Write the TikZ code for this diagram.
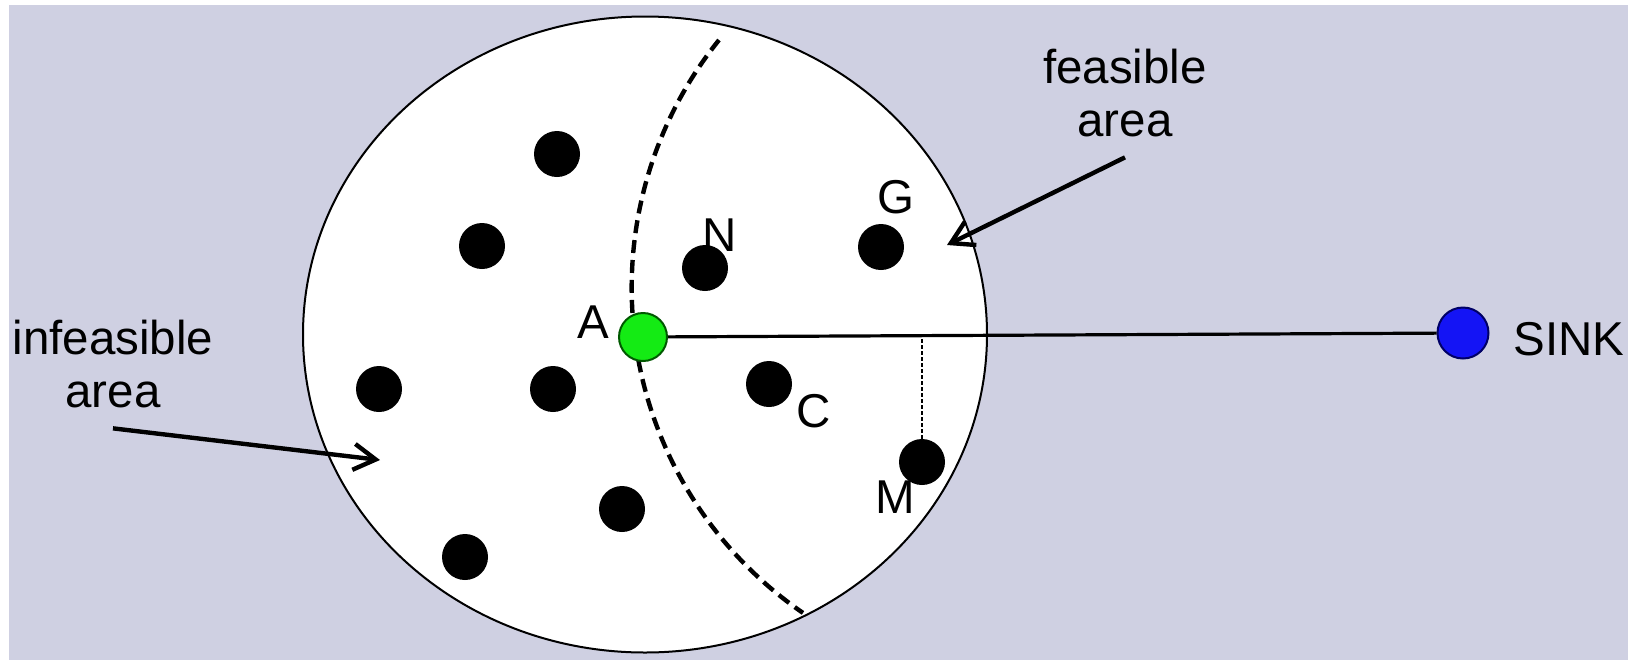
\documentclass[tikz,border=0pt]{standalone}
\usepackage{fontspec}
\setmainfont{Liberation Sans}
\usetikzlibrary{arrows.meta, positioning}
\definecolor{bglav}{RGB}{207,208,226}
\definecolor{nodegreen}{RGB}{20,235,20}
\definecolor{sinkblue}{RGB}{20,20,245}

\begin{document}
\begin{tikzpicture}[
  x=0.5pt, y=-0.5pt,
  font=\fontsize{23.75}{26.5}\selectfont,
  >={Straight Barb[length=11pt, width=13pt]},
  sensor/.style={circle, fill=black, minimum size=23pt, inner sep=0pt},
  letter/.style={inner sep=0pt},
  callout/.style={align=center, inner sep=0pt},
  pointer/.style={->, line width=2.2pt},
]
  \useasboundingbox (0,0) rectangle (1635,660);
  \fill[bglav] (9,5) rectangle (1628,660);

  % --- range of A and feasibility boundary ------------------------
  \draw[fill=white, line width=1pt] (645,334.5) ellipse [x radius=171pt, y radius=159pt];
  \draw[line width=2.2pt, dash pattern=on 6.5pt off 3.5pt]
    (719,40) arc [start angle=141.14, end angle=235.54, radius=197.3pt];

  % --- sensor nodes -----------------------------------------------
  \node[sensor] (s1) at (557,154) {};
  \node[sensor] (s2) at (482,246) {};
  \node[sensor] (nN) at (705,268) {};
  \node[sensor] (nG) at (881,247) {};
  \node[sensor] (s3) at (379,389) {};
  \node[sensor] (s4) at (553,389) {};
  \node[sensor] (nC) at (769,384) {};
  \node[sensor] (nM) at (922,462) {};
  \node[sensor] (s5) at (622,509) {};
  \node[sensor] (s6) at (465,557) {};

  \node[circle, fill=nodegreen, draw=green!35!black, line width=1pt,
        minimum size=24pt, inner sep=0pt] (nA) at (643,337) {};
  \node[circle, fill=sinkblue, draw=blue!40!black, line width=1pt,
        minimum size=25.5pt, inner sep=0pt] (sink) at (1463,333) {};

  \draw[line width=1.6pt] (nA) -- (sink);
  \draw[line width=0.9pt, dash pattern=on 2pt off 1pt] (nM) -- (nM |- nA);

  % --- labels -----------------------------------------------------
  \node[letter] (labA) at (593,322) {A};
  \node[letter] (labN) at (720,235) {N};
  \node[letter] (labG) at (896,197) {G};
  \node[letter] (labC) at (814,411) {C};
  \node[letter] (labM) at (895,497) {M};
  \node[letter, anchor=base west] (labSink) at (1513,355) {SINK};

  \node[callout] (infeas) at (113,364) {infeasible\\area};
  \node[callout] (feas) at (1125,93) {feasible\\area};
  \coordinate (infTip) at (380,460);
  \coordinate (feasTip) at (947,245);
  \draw[pointer] ([yshift=-10pt]infeas.south) -- (infTip);
  \draw[pointer] ([yshift=-10pt]feas.south) -- (feasTip);
\end{tikzpicture}
\end{document}
